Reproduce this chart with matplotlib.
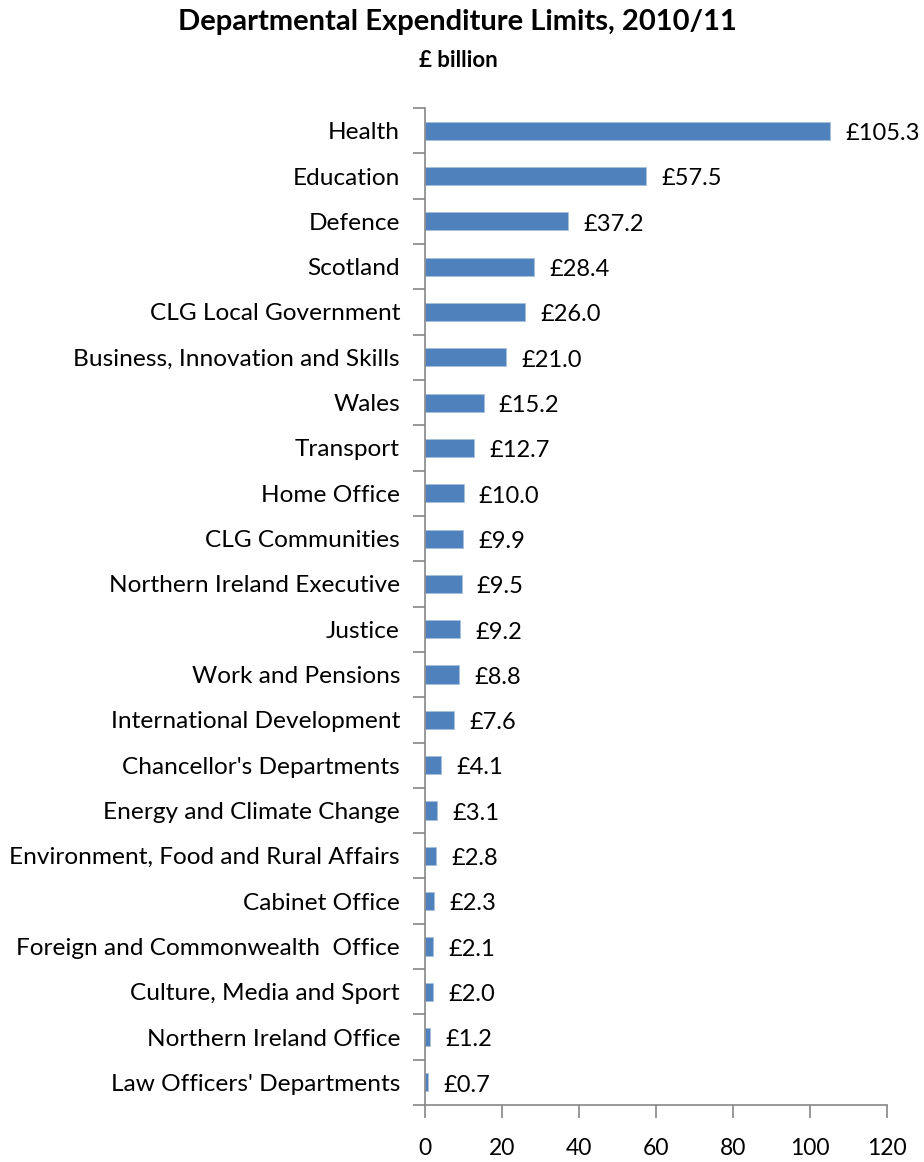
import matplotlib.pyplot as plt
import numpy as np

plt.rcParams["font.family"] = ["Lato", "DejaVu Sans"]

# 部門別支出上限 (2010/11, 単位: £ billion)
departments = [
    "Health",
    "Education",
    "Defence",
    "Scotland",
    "CLG Local Government",
    "Business, Innovation and Skills",
    "Wales",
    "Transport",
    "Home Office",
    "CLG Communities",
    "Northern Ireland Executive",
    "Justice",
    "Work and Pensions",
    "International Development",
    "Chancellor's Departments",
    "Energy and Climate Change",
    "Environment, Food and Rural Affairs",
    "Cabinet Office",
    "Foreign and Commonwealth  Office",
    "Culture, Media and Sport",
    "Northern Ireland Office",
    "Law Officers' Departments",
]
spending = [
    105.3, 57.5, 37.2, 28.4, 26.0, 21.0, 15.2, 12.7, 10.0, 9.9, 9.5,
    9.2, 8.8, 7.6, 4.1, 3.1, 2.8, 2.3, 2.1, 2.0, 1.2, 0.7,
]
x_ticks = [0, 20, 40, 60, 80, 100, 120]

BAR_COLOR = "#4F81BD"
AXIS_COLOR = "#868686"

fig = plt.figure(figsize=(9.24, 11.62), dpi=100)
ax = fig.add_axes([0.46, 0.049, 0.5, 0.858])

y = np.arange(len(departments))
ax.barh(y, spending, height=0.4, color=BAR_COLOR,
        edgecolor="#A7C0DE", linewidth=0.6)

for yi, v in zip(y, spending):
    ax.annotate(f"£{v:.1f}", (v, yi), xytext=(11, -2),
                textcoords="offset points", ha="left", va="center",
                fontsize=17, color="black")

ax.set_ylim(len(departments) - 0.5, -0.5)
ax.set_yticks(np.arange(-0.5, len(departments) + 0.5, 1.0), minor=False)
ax.set_yticklabels([])
ax.set_yticks(y, minor=True)
ax.set_yticklabels(departments, minor=True, fontsize=17.6)
ax.tick_params(axis="y", which="minor", length=0, pad=18)
ax.tick_params(axis="y", which="major", length=9, width=1.2,
               color=AXIS_COLOR)

ax.set_xlim(0, 120)
ax.set_xticks(x_ticks)
ax.set_xticklabels([str(t) for t in x_ticks], fontsize=16.5)
ax.tick_params(axis="x", length=9, width=1.2, color=AXIS_COLOR, pad=15)

for side in ("top", "right"):
    ax.spines[side].set_visible(False)
for side in ("left", "bottom"):
    ax.spines[side].set_color(AXIS_COLOR)
    ax.spines[side].set_linewidth(1.2)

fig.text(0.495, 0.981, "Departmental Expenditure Limits, 2010/11",
         ha="center", va="center", fontsize=21, fontweight="bold")
fig.text(0.496, 0.948, "£ billion", ha="center", va="center",
         fontsize=16, fontweight="bold")

fig.savefig("out.png", dpi=100)
plt.close(fig)
